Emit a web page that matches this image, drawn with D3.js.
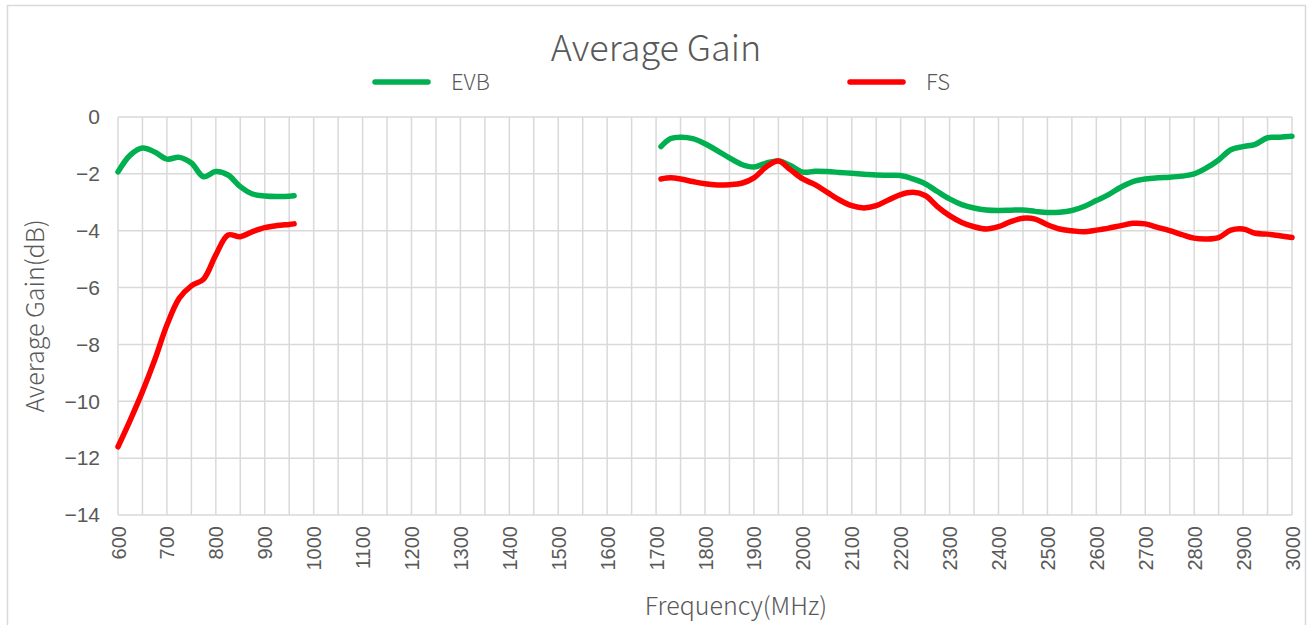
<!DOCTYPE html>
<html>
<head>
    <meta charset="utf-8">
    <title>Average Gain</title>
    <script src="https://d3js.org/d3.v7.min.js"></script>
    <style>
      body { margin: 0; background: #fff; }
      text { fill: #595959; }
    </style>
</head>
<body>
<script type="text/javascript">
    // frequencies (MHz); the null-gain entry at 1300 breaks the line
    var freq = [600, 625, 650, 675, 700, 725, 750, 775, 800, 825, 850, 875, 900, 925, 950, 960,
      1300,
      1710, 1730, 1750, 1775, 1800, 1825, 1850, 1875, 1900, 1925, 1950, 1975, 2000, 2025, 2050, 2075,
      2100, 2125, 2150, 2175, 2200, 2225, 2250, 2275, 2300, 2325, 2350, 2375, 2400, 2425, 2450, 2475,
      2500, 2525, 2550, 2575, 2600, 2625, 2650, 2675, 2700, 2725, 2750, 2775, 2800, 2825, 2850, 2875,
      2900, 2925, 2950, 2975, 3000];

    var evb = [-1.93, -1.34, -1.09, -1.23, -1.48, -1.42, -1.62, -2.1, -1.92, -2.04, -2.45, -2.71, -2.78, -2.8, -2.79, -2.77,
      null,
      -1.04, -0.76, -0.71, -0.76, -0.94, -1.18, -1.44, -1.67, -1.76, -1.62, -1.55, -1.71, -1.94, -1.91, -1.92, -1.95,
      -1.98, -2.01, -2.04, -2.05, -2.06, -2.18, -2.35, -2.62, -2.88, -3.08, -3.2, -3.27, -3.29, -3.28, -3.27, -3.32,
      -3.36, -3.35, -3.29, -3.15, -2.94, -2.73, -2.47, -2.27, -2.18, -2.14, -2.12, -2.08, -2.0, -1.79, -1.51, -1.15,
      -1.04, -0.96, -0.73, -0.71, -0.68];

    var fs = [-11.6, -10.66, -9.66, -8.55, -7.32, -6.38, -5.94, -5.7, -4.85, -4.15, -4.21, -4.03, -3.89, -3.82, -3.78, -3.76,
      null,
      -2.18, -2.14, -2.18, -2.27, -2.35, -2.39, -2.38, -2.33, -2.14, -1.76, -1.55, -1.86, -2.18, -2.38, -2.65, -2.92,
      -3.12, -3.2, -3.12, -2.92, -2.73, -2.65, -2.76, -3.15, -3.47, -3.71, -3.86, -3.94, -3.86, -3.68, -3.56, -3.59,
      -3.79, -3.94, -4.0, -4.04, -3.98, -3.91, -3.82, -3.74, -3.76, -3.88, -4.0, -4.14, -4.26, -4.29, -4.24, -3.98,
      -3.94, -4.09, -4.12, -4.18, -4.24];

    var xTicks = d3.range(600, 3001, 100);
    var yTicks = [0, -2, -4, -6, -8, -10, -12, -14];

    var series = [
      { name: 'EVB', values: evb, color: '#00B050' },
      { name: 'FS',  values: fs,  color: '#FF0000' }
    ];

    var width = 1313, height = 625;
    // plot box (window.top is reserved, so prefixed names)
    var pLeft = 118, pRight = 1292, pTop = 117, pBottom = 515;
    var font = '"Liberation Sans", Arial, sans-serif';
    var titleFont = '"Noto Sans CJK SC", "Noto Sans", sans-serif';

    var svg = d3.select('body')
      .append('svg')
        .attr('width', width)
        .attr('height', height);

    // chart border
    svg.append('rect')
      .attr('x', 7.5).attr('y', 5.5)
      .attr('width', 1298).attr('height', 640)
      .attr('fill', 'none')
      .attr('stroke', '#d9d9d9')
      .attr('stroke-width', 1.5);

    var x = d3.scaleLinear()
      .domain([600, 3000])
      .range([pLeft, pRight]);

    var y = d3.scaleLinear()
      .domain([-14, 0])
      .range([pBottom, pTop]);

    // grid: vertical every 50 MHz, horizontal every 2 dB
    var grid = svg.append('g').attr('class', 'grid');
    grid.selectAll('line.v')
      .data(d3.range(600, 3001, 50))
      .enter().append('line')
        .attr('class', 'v')
        .attr('x1', function(d) { return x(d); })
        .attr('x2', function(d) { return x(d); })
        .attr('y1', pTop).attr('y2', pBottom)
        .attr('stroke', '#d9d9d9')
        .attr('stroke-width', 1.5);
    grid.selectAll('line.h')
      .data(yTicks)
      .enter().append('line')
        .attr('class', 'h')
        .attr('x1', pLeft).attr('x2', pRight)
        .attr('y1', function(d) { return y(d); })
        .attr('y2', function(d) { return y(d); })
        .attr('stroke', '#d9d9d9')
        .attr('stroke-width', 1.5);

    // y axis labels
    var yAxis = d3.axisLeft(y)
      .tickValues(yTicks)
      .tickSize(0)
      .tickPadding(18);
    var gy = svg.append('g')
      .attr('transform', 'translate(' + pLeft + ',0)')
      .call(yAxis);
    gy.select('.domain').remove();
    gy.selectAll('text')
      .attr('font-family', font)
      .attr('font-size', 21)
      .style('fill', '#595959');

    // x axis labels, rotated
    var xAxis = d3.axisBottom(x)
      .tickValues(xTicks)
      .tickSize(0)
      .tickFormat(d3.format('d'));
    var gx = svg.append('g')
      .attr('transform', 'translate(0,' + pBottom + ')')
      .call(xAxis);
    gx.select('.domain').remove();
    gx.selectAll('text')
      .attr('font-family', font)
      .attr('font-size', 20)
      .attr('transform', 'rotate(-90)')
      .attr('text-anchor', 'end')
      .attr('x', -11)
      .attr('y', 0)
      .attr('dy', '0.35em')
      .style('fill', '#595959');

    // lines
    var line = d3.line()
      .defined(function(d) { return d[1] !== null; })
      .x(function(d) { return x(d[0]); })
      .y(function(d) { return y(d[1]); })
      .curve(d3.curveCatmullRom.alpha(0.5));

    svg.selectAll('path.series')
      .data(series)
      .enter().append('path')
        .attr('class', 'series')
        .attr('d', function(s) { return line(freq.map(function(f, i) { return [f, s.values[i]]; })); })
        .attr('fill', 'none')
        .attr('stroke', function(s) { return s.color; })
        .attr('stroke-width', 5.5)
        .attr('stroke-linecap', 'round')
        .attr('stroke-linejoin', 'round');

    // title
    svg.append('text')
      .attr('x', 656).attr('y', 61)
      .attr('text-anchor', 'middle')
      .attr('font-family', titleFont)
      .attr('font-size', 36)
      .attr('font-weight', 300)
      .text('Average Gain');

    // legend
    var legendX = [373, 848];
    var legend = svg.append('g').attr('class', 'legend')
      .selectAll('g')
      .data(series)
      .enter().append('g')
        .attr('transform', function(d, i) { return 'translate(' + legendX[i] + ',82)'; });
    legend.append('line')
      .attr('x1', 2).attr('x2', 55)
      .attr('stroke', function(d) { return d.color; })
      .attr('stroke-width', 5.5)
      .attr('stroke-linecap', 'round');
    legend.append('text')
      .attr('x', 78).attr('dy', '0.35em')
      .attr('font-family', titleFont)
      .attr('font-size', 22)
      .attr('font-weight', 300)
      .text(function(d) { return d.name; });

    // axis titles
    svg.append('text')
      .attr('transform', 'translate(44,' + ((pTop + pBottom) / 2) + ') rotate(-90)')
      .attr('text-anchor', 'middle')
      .attr('font-family', titleFont)
      .attr('font-size', 25)
      .attr('font-weight', 300)
      .text('Average Gain(dB)');

    svg.append('text')
      .attr('x', 736).attr('y', 615)
      .attr('text-anchor', 'middle')
      .attr('font-family', titleFont)
      .attr('font-size', 25)
      .attr('font-weight', 300)
      .text('Frequency(MHz)');
</script>
</body>
</html>
